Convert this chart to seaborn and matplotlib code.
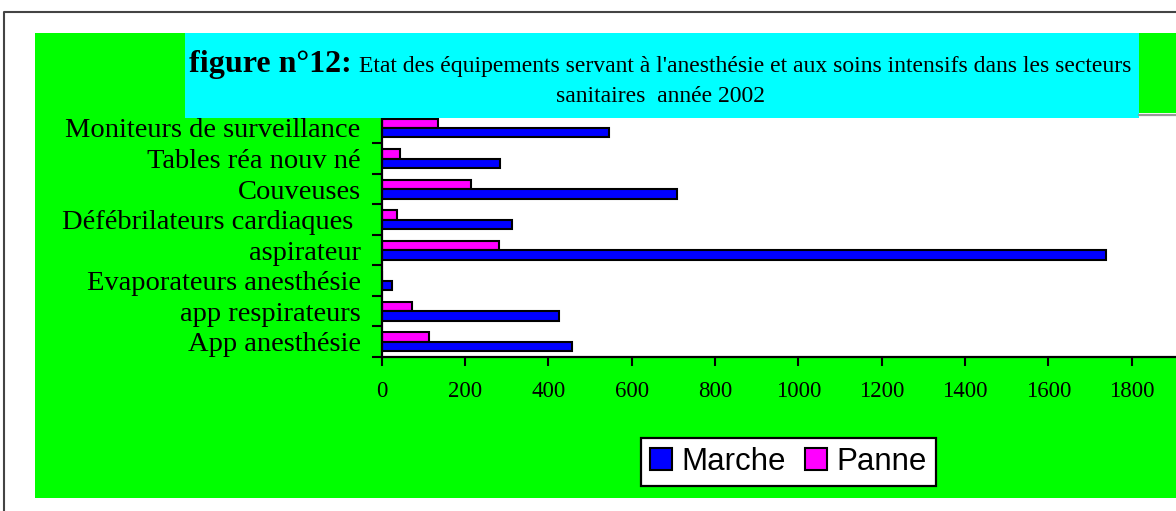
import numpy as np
import pandas as pd
import matplotlib
matplotlib.use("Agg")
import matplotlib.pyplot as plt
from matplotlib.patches import Rectangle, Patch
from matplotlib.lines import Line2D
import seaborn as sns

# --- data (top to bottom as drawn) ---
equipements = ["Moniteurs de surveillance", "Tables réa nouv né", "Couveuses",
               "Défébrilateurs cardiaques ", "aspirateur", "Evaporateurs anesthésie",
               "app respirateurs", "App anesthésie"]
marche = [545, 284, 710, 314, 1738, 25, 427, 457]
panne = [135, 45, 214, 38, 282, 0, 73, 113]
x_ticks = [0, 200, 400, 600, 800, 1000, 1200, 1400, 1600, 1800]

df = pd.DataFrame({
    "Equipement": equipements * 2,
    "Nombre": marche + panne,
    "Etat": ["Marche"] * len(marche) + ["Panne"] * len(panne),
})

W, H = 1176, 511
def fx(px):
    return px / W
def fy(py):
    return 1 - py / H

sns.set_style("white")
plt.rcParams["font.family"] = ["Liberation Serif", "DejaVu Serif"]
plt.rcParams["text.color"] = "black"
plt.rcParams["xtick.color"] = "black"
plt.rcParams["ytick.color"] = "black"
plt.rcParams["axes.labelcolor"] = "black"

fig = plt.figure(figsize=(W / 100, H / 100), dpi=100)
fig.patch.set_facecolor("white")

# green chart area + cyan title box
fig.add_artist(Rectangle((fx(35), fy(498)), fx(1176) - fx(35), fy(33) - fy(498),
                         transform=fig.transFigure, facecolor="#00FF00",
                         edgecolor="none", zorder=-2))
fig.add_artist(Rectangle((fx(185), fy(118.5)), fx(1139) - fx(185), fy(33) - fy(118.5),
                         transform=fig.transFigure, facecolor="#00FFFF",
                         edgecolor="none", zorder=5))
fig.add_artist(Line2D([fx(1139), fx(1176)], [fy(115), fy(115)], transform=fig.transFigure,
                      color="#999999", lw=1.6, zorder=5))
# outer frame (cropped at right and bottom)
fig.add_artist(Line2D([fx(3.5), fx(3.5), fx(1176)], [fy(511), fy(12), fy(12)],
                      transform=fig.transFigure, color="#444444", lw=1.5, zorder=5))

# plot area
ax = fig.add_axes([fx(381.5), fy(357), fx(1176) - fx(381.5), fy(112.7) - fy(357)])
ax.set_facecolor("white")

sns.barplot(data=df, y="Equipement", x="Nombre", hue="Etat",
            hue_order=["Panne", "Marche"],
            palette={"Marche": "#0000FF", "Panne": "#FF00FF"},
            order=equipements, orient="h", width=0.62, saturation=1,
            edgecolor="black", linewidth=1.5, errorbar=None, legend=False, ax=ax)

ax.set_xlim(0, 1906)
ax.set_ylim(len(equipements) - 0.5, -0.5)
ax.set_xlabel("")
ax.set_ylabel("")

ax.set_xticks(x_ticks)
ax.set_xticklabels([str(v) for v in x_ticks])
ax.tick_params(axis="x", direction="out", length=6.5, width=1.5, color="black",
               labelcolor="black", labelsize=16.5, pad=11, bottom=True)

# ticks between categories, labels centered on categories
ax.set_yticks(np.arange(-0.5, len(equipements), 1.0))
ax.set_yticklabels([])
ax.set_yticks(np.arange(len(equipements)), minor=True)
ax.set_yticklabels(equipements, minor=True)
ax.tick_params(axis="y", which="major", direction="out", length=7, width=1.5,
               color="black", left=True)
ax.tick_params(axis="y", which="minor", length=0, labelsize=20.5, pad=15,
               labelcolor="black")

for s in ["top", "right"]:
    ax.spines[s].set_visible(False)
for s in ["left", "bottom"]:
    ax.spines[s].set_color("black")
    ax.spines[s].set_linewidth(1.6)

# title
fig.text(fx(189), fy(71.7), "figure n°12:", ha="left", va="baseline",
         fontsize=23, fontweight="bold", color="black", zorder=6)
fig.text(fx(359), fy(71.7),
         "Etat des équipements servant à l'anesthésie et aux soins intensifs dans les secteurs",
         ha="left", va="baseline", fontsize=17, color="black", zorder=6)
fig.text(fx(660), fy(102.3), "sanitaires  année 2002", ha="center", va="baseline",
         fontsize=17, color="black", zorder=6)

# legend
handles = [Patch(facecolor="#0000FF", edgecolor="black", linewidth=1.5, label="Marche"),
           Patch(facecolor="#FF00FF", edgecolor="black", linewidth=1.5, label="Panne")]
leg = fig.legend(handles=handles, loc="center", bbox_to_anchor=(fx(788.5), fy(462)),
                 ncol=2, frameon=True, fancybox=False, edgecolor="black",
                 facecolor="white", framealpha=1,
                 prop={"family": "Liberation Sans", "size": 22.5},
                 handlelength=0.7, handleheight=0.7, handletextpad=0.3,
                 columnspacing=0.6, borderpad=0.3, borderaxespad=0)
leg.get_frame().set_linewidth(1.6)
for t in leg.get_texts():
    t.set_color("black")

fig.savefig("out.png", dpi=100, facecolor=fig.get_facecolor())
